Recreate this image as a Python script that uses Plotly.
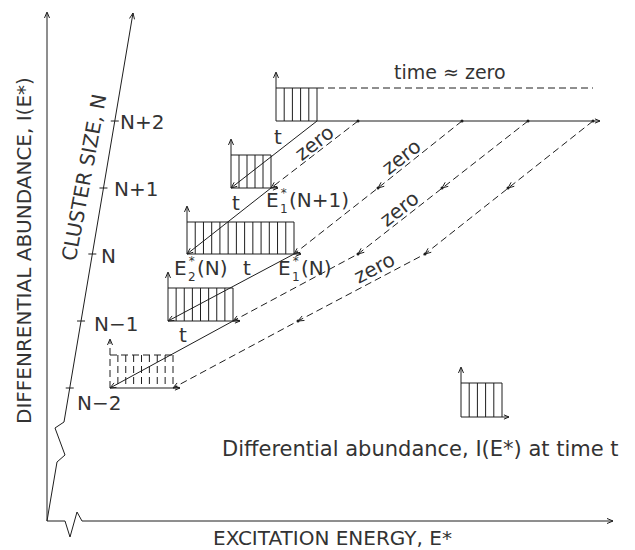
import math
import plotly.graph_objects as go

W, H = 635, 550
FONT = "DejaVu Sans"
TXT = "#333333"
INK = "#1e1e1e"

# ---------------- data (diagram geometry in canvas units) ----------------
levels = ["N+2", "N+1", "N", "N\u22121", "N\u22122"]
level_y = [121, 188, 254, 321, 388]          # E* baseline of each cluster-size panel
panel_x0 = [276, 231, 187, 168, 110]         # E* = 0 of each panel
panel_x1 = [317, 271, 294, 233, 173]         # upper edge of the populated band
panel_top = [88, 155, 222, 288, 355]         # abundance level
panel_bins = [5, 5, 13, 8, 8]
panel_dashed = [False, False, False, False, True]
tick_label_x = [118, 112, 99, 92, 75]
tick_label_y = [122, 189, 256, 324, 403]

# time-zero energies on the N+2 axis and where they land at smaller sizes
zero_paths = [
    [358, 271],
    [462, 378, 294],
    [528, 442, 358, 233],
    [593, 508, 425, 298, 173],
]
zero_label_xy = [(314, 143), (401, 157), (399, 209), (374, 268)]
zero_label_ang = [-38, -38, -38, -28]
t_label_xy = [(278, 137), (236, 203), (247, 268), (183, 335)]

origin = (47, 521)
y_axis_top = 12
x_axis_end = 613
x_break_x = [65, 70, 77, 82]
x_break_dy = [0, 16, -9, 0]
slant_top = (133, 13)
slant_break = [(57, 462), (65, 455), (55, 428), (64, 422)]
t0_axis_end = 600
t0_dash_end = 593
legend_panel = dict(x0=461, x1=502, top=383, base=417, bins=5)

# ---------------- helpers ----------------
sx, sy = [], []      # solid lines
dx_, dy_ = [], []    # dashed lines
hx, hy = [], []      # arrow heads
dotx, doty = [], []


def seg(xs, ys, dashed=False):
    X, Y = (dx_, dy_) if dashed else (sx, sy)
    X.extend(list(xs) + [None])
    Y.extend(list(ys) + [None])


def head(px, py, tx, ty, L=6.5, half=0.40):
    ddx, ddy = tx - px, ty - py
    n = math.hypot(ddx, ddy)
    bx, by = -ddx / n, -ddy / n
    pts = []
    for s in (1, -1):
        c, si = math.cos(s * half), math.sin(s * half)
        rx, ry = bx * c - by * si, bx * si + by * c
        pts.append((tx + L * rx, ty + L * ry))
    hx.extend([pts[0][0], tx, pts[1][0], None])
    hy.extend([pts[0][1], ty, pts[1][1], None])


def panel(x0, x1, top, base, bins, dashed=False, axis_end=None):
    # vertical abundance axis
    seg([x0, x0], [base, top - 15], dashed)
    head(x0, base, x0, top - 16)
    # energy axis
    end = axis_end if axis_end is not None else x1 + 7
    seg([x0, end], [base, base])
    head(x0, base, end, base, L=5.5)
    # histogram box with vertical hatching
    seg([x0, x1], [top, top], dashed)
    step = (x1 - x0) / bins
    for k in range(1, bins + 1):
        xv = x0 + k * step
        seg([xv, xv], [top, base], dashed)


# main axes
seg([origin[0], origin[0]], [origin[1], y_axis_top + 1])
head(origin[0], origin[1], origin[0], y_axis_top)
hxs = [origin[0]] + x_break_x + [x_axis_end]
hys = [origin[1]] + [origin[1] + d for d in x_break_dy] + [origin[1]]
seg(hxs, hys)
head(origin[0], origin[1], x_axis_end, origin[1])
slx = [origin[0]] + [p[0] for p in slant_break] + [slant_top[0]]
sly = [origin[1]] + [p[1] for p in slant_break] + [slant_top[1]]
seg(slx, sly)
head(slant_break[-1][0], slant_break[-1][1], slant_top[0], slant_top[1])

# ticks on the cluster-size axis
bx0, by0 = slant_break[-1]
for y in level_y:
    xt = bx0 + (slant_top[0] - bx0) * (y - by0) / (slant_top[1] - by0)
    seg([xt - 4, xt + 4], [y, y])

# panels
for i in range(len(levels)):
    panel(panel_x0[i], panel_x1[i], panel_top[i], level_y[i], panel_bins[i],
          dashed=panel_dashed[i], axis_end=(t0_axis_end if i == 0 else None))

# time ~ zero extension of the parent distribution
seg([panel_x1[0], t0_dash_end], [panel_top[0], panel_top[0]], dashed=True)

# "t" transfers (solid)
for i in range(len(levels) - 1):
    ax, ay = panel_x1[i], level_y[i]
    bx, by = panel_x0[i + 1], level_y[i + 1]
    seg([ax, bx], [ay, by])
    head(ax, ay, bx, by)

# "zero" transfers (dashed)
for path in zero_paths:
    ys = level_y[:len(path)]
    seg(path, ys, dashed=True)
    dotx.append(path[0]); doty.append(ys[0])
    for k in range(1, len(path)):
        head(path[k - 1], ys[k - 1], path[k], ys[k])
        if k < len(path) - 1:
            dotx.append(path[k]); doty.append(ys[k])

# legend panel
lp = legend_panel
panel(lp["x0"], lp["x1"], lp["top"], lp["base"], lp["bins"])

fig = go.Figure()
fig.add_trace(go.Scatter(x=sx, y=sy, mode="lines", line=dict(color=INK, width=1),
                         hoverinfo="skip"))
fig.add_trace(go.Scatter(x=dx_, y=dy_, mode="lines",
                         line=dict(color=INK, width=1, dash="7px,4px"), hoverinfo="skip"))
fig.add_trace(go.Scatter(x=hx, y=hy, mode="lines", line=dict(color=INK, width=1),
                         hoverinfo="skip"))
fig.add_trace(go.Scatter(x=dotx, y=doty, mode="markers",
                         marker=dict(color=INK, size=3), hoverinfo="skip"))


def txt(x, y, s, size=20, angle=0, xanchor="center", yanchor="middle", pad=1):
    return dict(x=x, y=y, xref="x", yref="y", text=s, showarrow=False,
                font=dict(family=FONT, size=size, color=TXT), borderpad=pad,
                textangle=angle, xanchor=xanchor, yanchor=yanchor)


ann = []
ann.append(txt(24, 251, "DIFFENRENTIAL ABUNDANCE, I(E*)", angle=-90))
ann.append(txt(84, 178, "CLUSTER SIZE, N", angle=-79.5))
ann.append(txt(332, 538, "EXCITATION ENERGY, E*"))
ann.append(txt(420, 449, "Differential abundance, I(E*) at time t", size=21))
ann.append(txt(450, 72, "time \u2248 zero", size=19))
for i, lab in enumerate(levels):
    ann.append(txt(tick_label_x[i], tick_label_y[i], lab, xanchor="left"))
for (x, y) in t_label_xy:
    ann.append(txt(x, y, "t"))
for (x, y), a in zip(zero_label_xy, zero_label_ang):
    ann.append(txt(x, y, "zero", angle=a))


def elabel(x, y, sub, tail):
    # E with stacked superscript * and subscript index, then the size in brackets
    return [txt(x, y, "E", xanchor="left", pad=0),
            txt(x + 14, y + 1, "*<br>" + sub, size=12, xanchor="left", pad=0),
            txt(x + 23, y, tail, xanchor="left", pad=0)]


ann += elabel(265, 200, "1", "(N+1)")
ann += elabel(173, 268, "2", "(N)")
ann += elabel(277, 268, "1", "(N)")

fig.update_layout(
    width=W, height=H, margin=dict(l=0, r=0, t=0, b=0),
    paper_bgcolor="white", plot_bgcolor="white", showlegend=False,
    xaxis=dict(range=[0, W], visible=False, fixedrange=True),
    yaxis=dict(range=[H, 0], visible=False, fixedrange=True),
    annotations=ann,
)
fig.write_html("out.html")
